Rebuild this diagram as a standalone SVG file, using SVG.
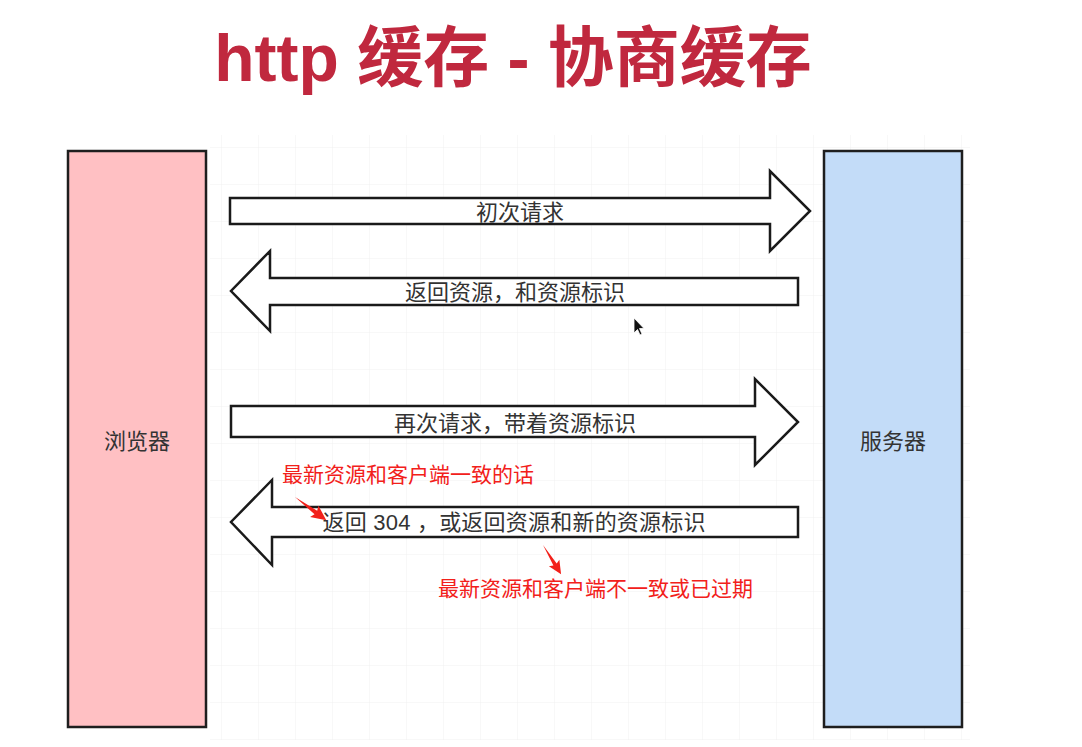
<svg xmlns="http://www.w3.org/2000/svg" width="1082" height="747" viewBox="0 0 1082 747">
<defs>
<style>
.box{stroke:#1e1e1e;stroke-width:2.5}
.arrow{fill:#ffffff;stroke:#1a1a1a;stroke-width:2.5;stroke-linejoin:miter}
.lbl{font-family:"Liberation Sans","Noto Sans CJK SC",sans-serif;font-size:22px;fill:#333333;text-anchor:middle;dominant-baseline:central}
.red{font-family:"Liberation Sans","Noto Sans CJK SC",sans-serif;font-size:21px;fill:#f2201a}
</style>
<pattern id="gp" x="0" y="0" width="37" height="37" patternUnits="userSpaceOnUse">
<path d="M37 0V37M0 37H37" fill="none" stroke="#ededed" stroke-width="1"/>
</pattern>
</defs>
<rect width="1082" height="747" fill="#ffffff"/>
<rect x="210" y="135" width="760" height="605" fill="url(#gp)" opacity="0.8"/>
<text x="513" y="81" text-anchor="middle" font-family="'Liberation Sans','Noto Sans CJK SC',sans-serif" font-size="66" font-weight="bold" fill="#c0283e">http 缓存 - 协商缓存</text>

<g id="browser">
<rect class="box" x="68" y="151" width="138" height="576" fill="#ffc0c3"/>
<text class="lbl" x="137" y="441">浏览器</text>
</g>
<g id="server">
<rect class="box" x="824" y="151" width="138" height="576" fill="#c3dcf8"/>
<text class="lbl" x="893" y="441">服务器</text>
</g>

<g id="connectors">
<g id="arrow1">
<polygon class="arrow" points="230,198 770,198 770,171 810,211 770,251 770,224 230,224"/>
<text class="lbl" x="520" y="212">初次请求</text>
</g>
<g id="arrow2">
<polygon class="arrow" points="798,278 270,278 270,251 231,291 270,331 270,305 798,305"/>
<text class="lbl" x="515" y="292">返回资源，和资源标识</text>
</g>
<g id="arrow3">
<polygon class="arrow" points="231,406 755,406 755,379 798,422 755,465 755,437 231,437"/>
<text class="lbl" x="515" y="423">再次请求，带着资源标识</text>
</g>
<g id="arrow4">
<polygon class="arrow" points="798,507 272,507 272,480 231,522 272,565 272,537 798,537"/>
<text class="lbl" x="514" y="522" textLength="383">返回 304 ，或返回资源和新的资源标识</text>
</g>
</g>

<g id="note1">
<text class="red" x="282" y="482">最新资源和客户端一致的话</text>
<polygon fill="#f2201a" transform="translate(295,497) rotate(36.6)" points="0,0 26,-2.2 24,-7 39,0 24,7 26,2.2"/>
</g>
<g id="note2">
<text class="red" x="438" y="596">最新资源和客户端不一致或已过期</text>
<polygon fill="#f2201a" transform="translate(543,545) rotate(58.2) scale(0.88)" points="0,0 26,-2.2 24,-7 39,0 24,7 26,2.2"/>
</g>
<g id="cursor">
<polygon fill="#111111" stroke="#ffffff" stroke-width="0.8" points="634,318 634,333 637.5,329.5 640,335 642,334 639.5,328.5 644,328.5"/>
</g>
</svg>
